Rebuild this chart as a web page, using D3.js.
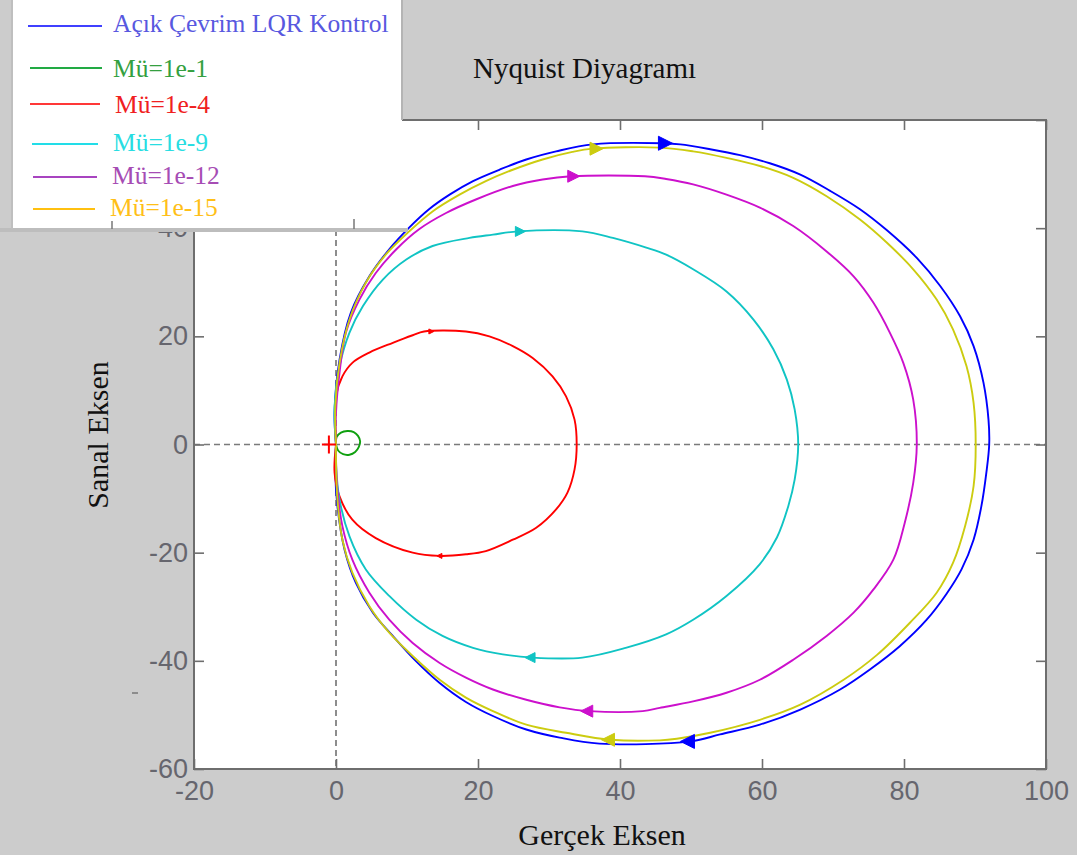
<!DOCTYPE html>
<html>
<head>
<meta charset="utf-8">
<script src="https://cdn.jsdelivr.net/npm/d3@7"></script>
<style>
  html, body { margin: 0; padding: 0; background: #cccccc; }
  svg { display: block; }
</style>
</head>
<body>
<svg id="chart" width="1077" height="855"></svg>
<script>
// Nyquist curves, [real, imaginary] pairs traced around each loop
const acikCevrim = [
  [0,0],[-0.2,5.9],[0.5,15.7],[2.1,24.4],[4.7,31.1],[7.5,36.1],[10.3,40.1],[13.1,43.5],[16.0,46.2],
  [19.3,48.7],[23.0,50.8],[26.8,52.7],[31.0,54.2],[36.2,55.5],[46.0,55.7],[48.5,55.5],[52.7,54.6],
  [56.9,53.5],[61.1,52.0],[65.4,49.9],[69.6,46.9],[73.8,43.5],[77.6,39.6],[81.8,34.5],[85.1,29.3],
  [87.9,23.7],[89.8,18.2],[91.2,11.4],[91.9,4.6],[92.0,0],
  [91.6,-5.2],[90.9,-11.4],[89.8,-17.6],[88.1,-23.1],[86.0,-27.6],[83.2,-32.4],[79.4,-37.3],
  [75.2,-41.6],[71.0,-45.3],[65.4,-49.0],[59.7,-51.8],[54.1,-53.6],[49.9,-54.9],[37.1,-55.3],
  [31.5,-54.2],[26.8,-52.7],[22.1,-50.2],[18.3,-47.6],[14.6,-44.1],[11.3,-40.1],[8.0,-35.4],
  [5.2,-31.1],[2.8,-25.6],[1.2,-19.4],[0.2,-11.4],[-0.1,-5.2],[0,0]
];
const mu1e1 = [
  [0,0],[0.1,1.4],[0.7,2.2],[1.6,2.5],[2.5,2.3],[3.1,1.6],[3.4,0.6],[3.2,-0.5],[2.7,-1.4],
  [1.9,-1.9],[1.0,-1.8],[0.3,-1.1],[0,0]
];
const mu1e4 = [
  [0,0],[0,8.9],[0.9,12.6],[2.3,15.1],[4.7,17.0],[8.0,18.8],[10.8,20.2],[12.4,20.9],[18.3,20.9],
  [21.6,20.0],[24.9,18.2],[27.7,16.0],[30.5,12.6],[32.4,8.9],[33.6,4.6],[33.9,0],
  [33.6,-4.6],[32.6,-8.9],[31.0,-12.0],[28.2,-15.4],[24.9,-17.6],[21.1,-19.7],[18.3,-20.3],
  [14.6,-20.6],[10.8,-20.0],[5.6,-17.3],[2.3,-13.9],[0.5,-9.6],[-0.2,-5.2],[0,0]
];
const mu1e9 = [
  [0,0],[-0.2,7.1],[0.5,14.5],[1.9,20.7],[3.8,25.6],[6.6,30.5],[9.9,34.2],[13.6,36.7],[18.8,38.2],
  [22.1,38.8],[25.6,39.4],[34.7,39.4],[39.0,38.2],[43.7,36.4],[46.5,35.1],[50.3,32.4],[55.0,28.3],
  [58.8,23.1],[61.6,17.6],[63.5,12.0],[64.6,6.5],[65.1,0],
  [64.6,-6.5],[63.7,-11.4],[62.1,-17.2],[59.7,-22.1],[55.0,-28.0],[50.3,-32.4],[46.5,-35.1],
  [40.8,-37.6],[34.7,-39.4],[27.7,-39.4],[23.5,-38.8],[19.3,-37.6],[15.0,-35.4],[11.3,-32.4],
  [7.5,-28.0],[4.2,-23.1],[1.9,-17.0],[0.5,-10.2],[0,-3.7],[0,0]
];
const mu1e12 = [
  [0,0],[0,5.9],[0.5,13.3],[1.4,20.7],[3.3,26.8],[5.6,31.7],[8.5,36.1],[11.7,39.8],[15.5,42.8],
  [19.7,45.3],[24.9,47.8],[29.1,49.0],[33.1,49.6],[43.5,49.6],[46.5,49.1],[50.3,48.1],[55.0,46.2],
  [59.7,43.8],[64.4,40.4],[69.1,35.7],[72.9,31.1],[75.7,26.2],[78.0,20.7],[79.9,15.1],[81.3,8.3],[81.8,0],
  [81.3,-7.1],[80.1,-14.5],[78.5,-21.3],[75.7,-26.8],[72.9,-31.1],[69.1,-35.4],[64.4,-39.8],
  [59.7,-43.5],[55.0,-45.9],[50.3,-47.5],[45.6,-48.7],[43.2,-49.3],[35.7,-49.3],[31.5,-48.6],
  [26.8,-47.2],[22.1,-45.3],[18.3,-43.1],[14.6,-40.4],[10.8,-36.7],[7.5,-32.4],[4.7,-27.4],
  [2.3,-21.3],[0.9,-15.1],[0.2,-8.3],[0,-2.8],[0,0]
];
const mu1e15 = [
  [0,0],[-0.1,7.1],[0.5,15.1],[1.9,23.1],[4.2,29.9],[7.0,35.1],[10.3,39.4],[13.6,43.1],[17.4,46.2],
  [21.1,48.7],[24.9,50.8],[29.1,52.7],[33.3,54.1],[36.2,54.7],[45.6,54.9],[50.3,54.2],[55.0,53.0],
  [59.7,51.5],[64.4,49.3],[69.1,45.9],[73.8,41.6],[77.6,37.3],[81.3,32.4],[84.6,26.8],[86.9,21.3],
  [88.8,14.5],[89.8,7.7],[90.1,0],
  [89.8,-7.7],[88.6,-15.1],[86.9,-21.9],[84.6,-27.4],[80.8,-33.0],[76.2,-38.9],[71.5,-43.5],
  [65.4,-48.1],[59.7,-50.9],[52.7,-53.3],[48.0,-54.4],[45.6,-54.7],[38.7,-54.6],[32.4,-53.3],
  [26.8,-51.8],[22.1,-49.3],[18.3,-46.8],[14.6,-43.5],[10.8,-39.1],[7.5,-34.8],[4.7,-29.9],
  [2.3,-23.7],[0.9,-17.6],[0.2,-10.2],[0,-2.8],[0,0]
];

// Direction arrows: [real, imaginary, direction (+1 right, -1 left)]
const arrowsAcik  = [[46.3, 55.7, 1], [49.6, -54.9, -1]];
const arrows1e4   = [[13.4, 20.9, 1], [14.6, -20.6, -1]];
const arrows1e9   = [[25.9, 39.4, 1], [27.4, -39.4, -1]];
const arrows1e12  = [[33.4, 49.6, 1], [35.4, -49.3, -1]];
const arrows1e15  = [[36.6, 54.7, 1], [38.4, -54.6, -1]];

const seriesNames  = ["Açık Çevrim LQR Kontrol", "Mü=1e-1", "Mü=1e-4", "Mü=1e-9", "Mü=1e-12", "Mü=1e-15"];
const seriesData   = [acikCevrim, mu1e1, mu1e4, mu1e9, mu1e12, mu1e15];
const seriesArrows = [arrowsAcik, [], arrows1e4, arrows1e9, arrows1e12, arrows1e15];
const criticalPoint = [-1, 0];

const xTicks = [-20, 0, 20, 40, 60, 80, 100];
const yTicks = [-60, -40, -20, 0, 20, 40, 60];

// styling
const lineColors   = ["#0000ff", "#10a010", "#ff0000", "#10c4c4", "#cc10cc", "#cccc10"];
const legendLine   = ["#4040ff", "#22aa44", "#ff3838", "#22dde8", "#a844c0", "#ffc010"];
const legendText   = ["#5858e0", "#34a040", "#f02020", "#28dde2", "#a64cb4", "#ffbf18"];
const arrowSizes   = [14, 0, 5, 10, 12, 13];

const svg = d3.select("#chart");
const W = 1077, H = 855;
const plotL = 194, plotR = 1046, plotT = 120, plotB = 769;
const legendBottom = 232;

const x = d3.scaleLinear().domain([-20, 100]).range([plotL, plotR]);
const y = d3.scaleLinear().domain([-60, 60]).range([plotB, plotT]);

svg.append("rect").attr("width", W).attr("height", H).attr("fill", "#cccccc");

// area left uncovered by the legend panel
svg.append("defs").append("clipPath").attr("id", "belowLegend")
  .append("rect").attr("x", 0).attr("y", legendBottom).attr("width", W).attr("height", H - legendBottom);

// plot box
svg.append("rect")
  .attr("x", plotL).attr("y", plotT)
  .attr("width", plotR - plotL).attr("height", plotB - plotT)
  .attr("fill", "#ffffff");

// zero reference lines
svg.append("line")
  .attr("x1", x(0)).attr("x2", x(0)).attr("y1", plotT).attr("y2", plotB)
  .attr("stroke", "#7a7a7a").attr("stroke-width", 1.7).attr("stroke-dasharray", "6,4");
svg.append("line")
  .attr("x1", plotL).attr("x2", plotR).attr("y1", y(0)).attr("y2", y(0))
  .attr("stroke", "#7a7a7a").attr("stroke-width", 1.7).attr("stroke-dasharray", "6,4");

// axes with inward ticks on all four sides
const tickColor = "#6e6e6e";
const labelFont = "'Liberation Sans', Arial, sans-serif";
const plainNumber = d => String(d);
function styleAxis(g, showLabels) {
  g.select(".domain").remove();
  g.selectAll(".tick line").attr("stroke", tickColor).attr("stroke-width", 1.6);
  g.selectAll(".tick text")
    .attr("fill", "#66666e")
    .style("font-family", labelFont)
    .style("font-size", "27px")
    .style("display", showLabels ? null : "none");
}
svg.append("g").attr("transform", `translate(0,${plotB})`)
  .call(d3.axisBottom(x).tickValues(xTicks).tickFormat(plainNumber).tickSize(-10).tickPadding(12))
  .call(g => styleAxis(g, true));
svg.append("g").attr("transform", `translate(0,${plotT})`)
  .call(d3.axisTop(x).tickValues(xTicks).tickSize(-10))
  .call(g => styleAxis(g, false));
// left axis: its upper labels sit under the legend panel, so clip them there
const yAxisWrap = svg.append("g").attr("clip-path", "url(#belowLegend)");
const yAxisG = yAxisWrap.append("g").attr("transform", `translate(${plotL},0)`)
  .call(d3.axisLeft(y).tickValues(yTicks).tickFormat(plainNumber).tickSize(-10).tickPadding(6))
  .call(g => styleAxis(g, true));
yAxisG.selectAll(".tick text")
  .style("display", d => y(d) + 10 < legendBottom ? "none" : null);
svg.append("g").attr("transform", `translate(${plotR},0)`)
  .call(d3.axisRight(y).tickValues(yTicks).tickSize(-10))
  .call(g => styleAxis(g, false));

svg.append("rect")
  .attr("x", plotL).attr("y", plotT)
  .attr("width", plotR - plotL).attr("height", plotB - plotT)
  .attr("fill", "none").attr("stroke", tickColor).attr("stroke-width", 2);

// curves
const line = d3.line()
  .x(d => x(d[0])).y(d => y(d[1]))
  .curve(d3.curveCatmullRom.alpha(0.5));
const curves = svg.append("g");
seriesData.forEach((data, i) => {
  curves.append("path")
    .datum(data)
    .attr("d", line)
    .attr("fill", "none")
    .attr("stroke", lineColors[i])
    .attr("stroke-width", 1.9)
    .attr("stroke-linejoin", "round");
});

// direction arrows
seriesArrows.forEach((arr, i) => {
  const s = arrowSizes[i];
  arr.forEach(([re, im, dir]) => {
    const cx = x(re), cy = y(im);
    const tip = cx + dir * s * 0.55, back = cx - dir * s * 0.45;
    curves.append("path")
      .attr("d", `M${tip},${cy}L${back},${cy - s / 2}L${back},${cy + s / 2}Z`)
      .attr("fill", lineColors[i])
      .attr("stroke", lineColors[i])
      .attr("stroke-width", 1);
  });
});

// critical point marker
const cpx = x(criticalPoint[0]), cpy = y(criticalPoint[1]);
curves.append("path")
  .attr("d", `M${cpx - 7},${cpy}H${cpx + 7}M${cpx},${cpy - 9}V${cpy + 9}`)
  .attr("stroke", "#ff0000").attr("stroke-width", 2);

// title
svg.append("text")
  .attr("x", 473).attr("y", 78)
  .style("font-family", "'Liberation Serif', 'Times New Roman', serif")
  .style("font-size", "29px")
  .attr("fill", "#111")
  .text("Nyquist Diyagramı");

// axis titles
svg.append("text")
  .attr("x", (plotL + plotR) / 2 - 18).attr("y", 845)
  .attr("text-anchor", "middle")
  .style("font-family", "'Liberation Serif', 'Times New Roman', serif")
  .style("font-size", "30px")
  .attr("fill", "#111")
  .text("Gerçek Eksen");
svg.append("text")
  .attr("transform", "translate(108,435) rotate(-90)")
  .attr("text-anchor", "middle")
  .style("font-family", "'Liberation Serif', 'Times New Roman', serif")
  .style("font-size", "30px")
  .attr("fill", "#111")
  .text("Sanal Eksen");

// small stray mark left of the axis
svg.append("line").attr("x1", 132).attr("x2", 138).attr("y1", 693).attr("y2", 693)
  .attr("stroke", "#777").attr("stroke-width", 1.5);

// legend panel
const legend = svg.append("g");
legend.append("rect").attr("x", 12).attr("y", 0).attr("width", 390).attr("height", 229).attr("fill", "#ffffff");
legend.append("rect").attr("x", 0).attr("y", 228).attr("width", 408).attr("height", 4).attr("fill", "#bdbdbd");
legend.append("line").attr("x1", 402).attr("x2", 402).attr("y1", 0).attr("y2", 120)
  .attr("stroke", "#b4b4b4").attr("stroke-width", 2);
legend.append("line").attr("x1", 12).attr("x2", 12).attr("y1", 0).attr("y2", 229)
  .attr("stroke", "#bfbfbf").attr("stroke-width", 2);
legend.append("line").attr("x1", 112).attr("x2", 112).attr("y1", 221).attr("y2", 229)
  .attr("stroke", "#777").attr("stroke-width", 1.5);
legend.append("line").attr("x1", 354).attr("x2", 354).attr("y1", 219).attr("y2", 229)
  .attr("stroke", "#777").attr("stroke-width", 1.5);

const legendLineY = [26, 68, 104, 144, 177, 209];
const legendTextY = [32, 77, 113, 151, 184, 216];
const legendX0 = [28, 30, 30, 32, 33, 33];
const legendX1 = [102, 102, 100, 98, 97, 95];
const legendTX = [113, 113, 115, 113, 112, 110];
seriesNames.forEach((name, i) => {
  legend.append("line")
    .attr("x1", legendX0[i]).attr("x2", legendX1[i])
    .attr("y1", legendLineY[i]).attr("y2", legendLineY[i])
    .attr("stroke", legendLine[i]).attr("stroke-width", 1.8);
  legend.append("text")
    .attr("x", legendTX[i]).attr("y", legendTextY[i])
    .style("font-family", "'Liberation Serif', 'Times New Roman', serif")
    .style("font-size", "25.5px")
    .attr("fill", legendText[i])
    .text(name);
});
</script>
</body>
</html>
